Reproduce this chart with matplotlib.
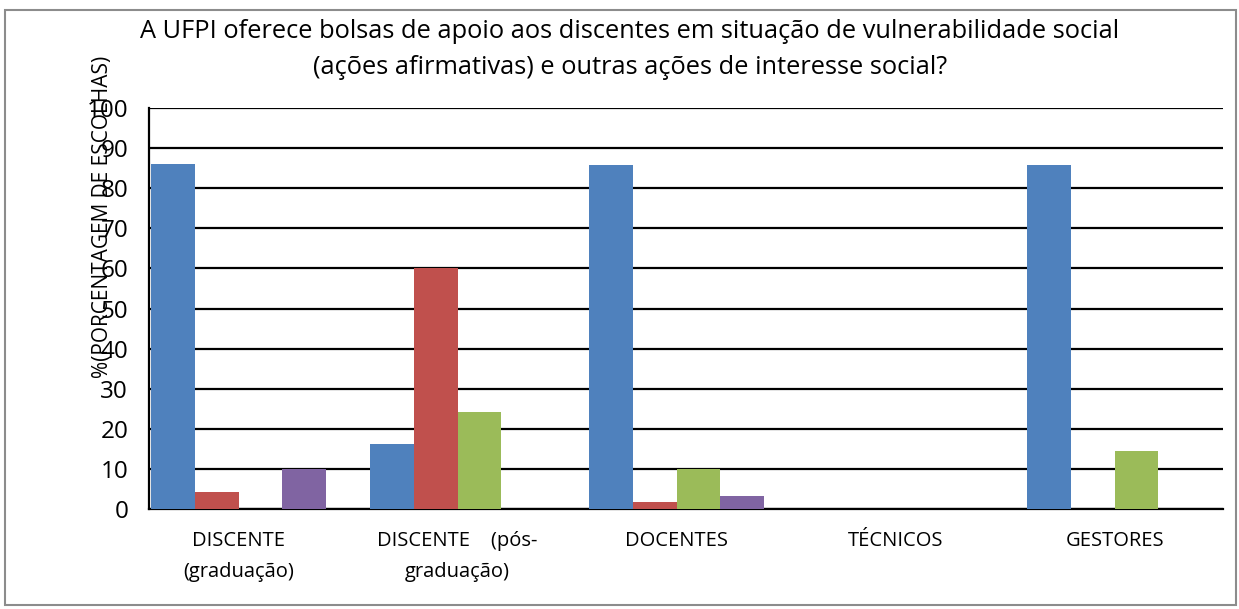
import numpy as np
import matplotlib
matplotlib.use("Agg")
from matplotlib import pyplot as plt
from matplotlib.patches import Rectangle

categories = ["DISCENTE\n(graduação)", "DISCENTE    (pós-\ngraduação)", "DOCENTES", "TÉCNICOS", "GESTORES"]
serie1 = [86.0, 16.2, 85.8, 0, 85.7]
serie2 = [4.2, 60.1, 1.7, 0, 0]
serie3 = [0, 24.2, 9.9, 0, 14.5]
serie4 = [10.0, 0, 3.2, 0, 0]
yticks = [0, 10, 20, 30, 40, 50, 60, 70, 80, 90, 100]

colors = ["#4F81BD", "#C0504D", "#9BBB59", "#8064A2"]

def main():
    plt.rcParams['font.family'] = ['Open Sans', 'DejaVu Sans']
    fig = plt.figure(figsize=(12.39, 6.09), dpi=100)
    ax = fig.add_axes([149/1239, 1-509/609, (1223-149)/1239, (509-108)/609])

    x = np.arange(len(categories))
    w = 0.2
    for i, s in enumerate([serie1, serie2, serie3, serie4]):
        ax.bar(x + (i - 1.5)*w, s, width=w, color=colors[i], zorder=3)

    ax.set_ylim(0, 100)
    ax.set_xlim(-0.409, 4.495)
    ax.set_yticks(yticks)
    ax.set_xticks(x)
    ax.set_xticklabels(categories, fontsize=14.5, linespacing=1.75)
    ax.tick_params(axis='y', labelsize=17.5, length=0, pad=15)
    ax.tick_params(axis='x', length=0, pad=16)
    ax.yaxis.grid(True, color='black', linewidth=1.6, zorder=1)
    ax.set_axisbelow(True)
    for s in ['top', 'right']:
        ax.spines[s].set_visible(False)
    ax.spines['left'].set_linewidth(1.6)
    ax.spines['bottom'].set_linewidth(1.6)

    # y label sits over the tick numbers, as in the original
    fig.text(103/1239, 1-217/609, "%(PORCENTAGEM DE ESCOLHAS)", rotation=90,
             ha='center', va='center', fontsize=15)
    fig.text(630/1239, 1-31/609,
             "A UFPI oferece bolsas de apoio aos discentes em situação de vulnerabilidade social",
             ha='center', va='center', fontsize=18.3)
    fig.text(630/1239, 1-67/609,
             "(ações afirmativas) e outras ações de interesse social?",
             ha='center', va='center', fontsize=18.3)

    fig.patches.append(Rectangle((5/1239, 4/609), 1231/1239, 595/609, transform=fig.transFigure,
                                 fill=False, edgecolor='#8c8c8c', linewidth=1.5))
    fig.savefig("out.png", dpi=100)

if __name__ == "__main__":
    main()
